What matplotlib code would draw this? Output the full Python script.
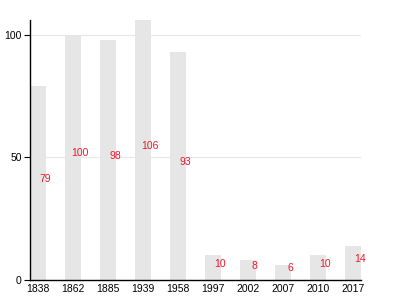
import matplotlib.pyplot as plt

plt.rcParams['font.family'] = ['Liberation Sans', 'DejaVu Sans']

years = ['1838', '1862', '1885', '1939', '1958', '1997', '2002', '2007', '2010', '2017']
values = [79, 100, 98, 106, 93, 10, 8, 6, 10, 14]

fig = plt.figure(figsize=(4, 3), dpi=100)
ax = fig.add_axes([0.075, 0.0667, 0.8275, 0.8667])

w = 0.46
x = list(range(len(years)))
ax.bar(x, values, width=w, color='#e6e6e6', zorder=2)

for xi, v in zip(x, values):
    ax.annotate(str(v), (xi, v / 2), xytext=(5, 3), textcoords='offset points',
                ha='center', va='center', color='#e8192c', fontsize=7.5, zorder=3)

ax.set_xlim(-w / 2, len(years) - 1 + w / 2)
ax.set_ylim(0, 106)
ax.set_xticks(x)
ax.set_xticklabels(years)
ax.set_yticks([0, 50, 100])
ax.yaxis.grid(True, color='#e8e8e8', linewidth=0.8, zorder=0)
ax.set_axisbelow(True)

for s in ['top', 'right']:
    ax.spines[s].set_visible(False)
ax.spines['left'].set_linewidth(1)
ax.spines['bottom'].set_linewidth(1)
ax.tick_params(axis='x', length=0, pad=3, labelsize=7.5)
ax.tick_params(axis='y', length=4, width=0.8, pad=2, labelsize=7.5)

fig.savefig('out.png', dpi=100)
